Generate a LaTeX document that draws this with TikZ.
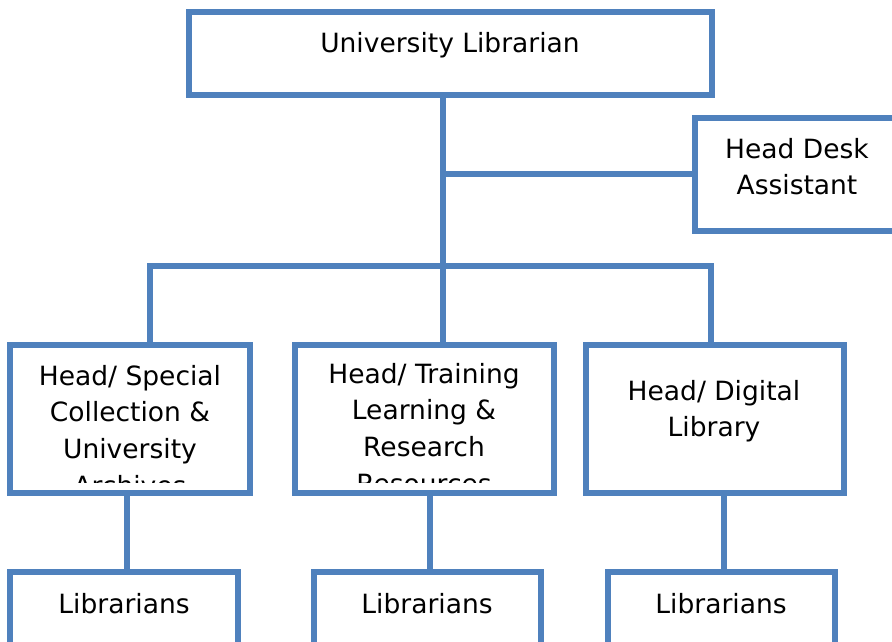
\documentclass[tikz,border=0pt]{standalone}
\usepackage{fontspec}
\setmainfont{DejaVu Sans}
\definecolor{orgblue}{HTML}{4F81BD}
\begin{document}
\begin{tikzpicture}[x=1pt,y=-1pt,
  orgbox/.style={draw=orgblue, line width=6pt, fill=white, rectangle,
                 inner sep=0pt, outer sep=0pt},
  link/.style={draw=orgblue, line width=6pt},
  lbl/.style={inner sep=0pt, outer sep=0pt, align=center, anchor=base,
              font=\fontsize{26.5}{36.8}\selectfont}]
\clip (0,0) rectangle (892,642);
\fill[white] (0,0) rectangle (892,642);

% connector junctions
\coordinate (bl) at (150,266);
\coordinate (bm) at (443,266);
\coordinate (br) at (711,266);
\coordinate (tj) at (443,174);
\coordinate (d1) at (127,530);
\coordinate (d2) at (430,530);
\coordinate (d3) at (724,530);

% boxes
\node[orgbox, minimum width=523pt, minimum height=83pt]  (ul)  at (450,54)    {};
\node[orgbox, minimum width=215pt, minimum height=113pt] (hda) at (802.5,174.5) {};
\node[orgbox, minimum width=240pt, minimum height=148pt] (h1)  at (130,419)   {};
\node[orgbox, minimum width=259pt, minimum height=148pt] (h2)  at (424.5,419) {};
\node[orgbox, minimum width=258pt, minimum height=148pt] (h3)  at (715,419)   {};
\node[orgbox, minimum width=228pt, minimum height=88pt]  (l1)  at (124,616)   {};
\node[orgbox, minimum width=227pt, minimum height=88pt]  (l2)  at (427.5,616) {};
\node[orgbox, minimum width=227pt, minimum height=88pt]  (l3)  at (721.5,616) {};

% connectors
\draw[link] (ul.south -| bm) -- (h2.north -| bm);
\draw[link] (tj) -- (tj -| hda.west);
\draw[link, line join=miter] (h1.north -| bl) -- (bl) -- (br) -- (h3.north -| br);
\draw[link] (h1.south -| d1) -- (l1.north -| d1);
\draw[link] (h2.south -| d2) -- (l2.north -| d2);
\draw[link] (h3.south -| d3) -- (l3.north -| d3);

% labels (base anchor sits on the last line of each label)
\node[lbl] (ult) at (450,53) {University Librarian};
\node[lbl] (hdat) at (797,194.8) {Head Desk\\Assistant};
\begin{scope}
  \clip ([shift={(3,3)}]h1.north west) rectangle ([shift={(-3,-11)}]h1.south east);
  \node[lbl] (h1t) at (130,495.4) {Head/ Special\\Collection \&\\University\\Archives};
\end{scope}
\begin{scope}
  \clip ([shift={(3,3)}]h2.north west) rectangle ([shift={(-3,-11)}]h2.south east);
  \node[lbl] (h2t) at (424,493.4) {Head/ Training\\Learning \&\\Research\\Resources};
\end{scope}
\node[lbl] (h3t) at (714,436.8) {Head/ Digital\\Library};
\node[lbl] (l1t) at (124,613) {Librarians};
\node[lbl] (l2t) at (427,613) {Librarians};
\node[lbl] (l3t) at (721,613) {Librarians};
\end{tikzpicture}
\end{document}
